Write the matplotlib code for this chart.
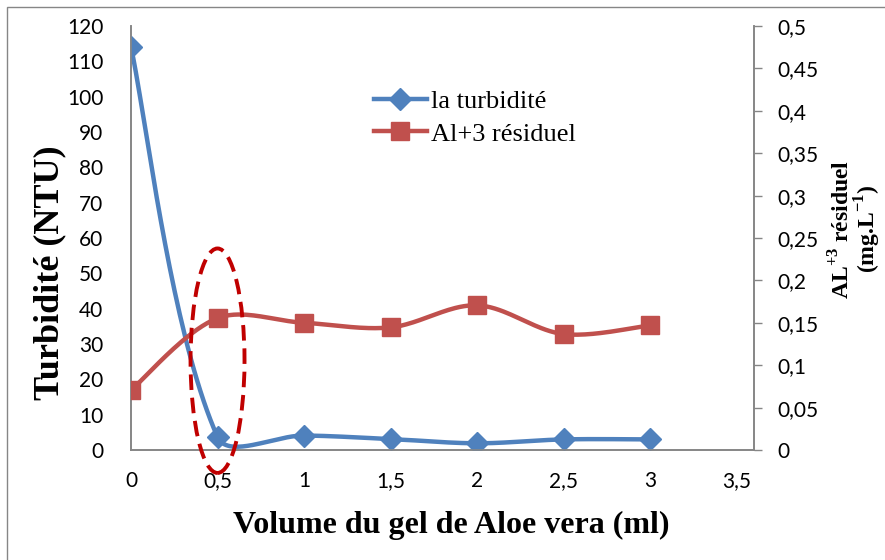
import numpy as np
import matplotlib
matplotlib.use("Agg")
import matplotlib.pyplot as plt
from matplotlib.patches import Ellipse, Rectangle
from matplotlib.lines import Line2D

# ---- data ----
volume = [0, 0.5, 1, 1.5, 2, 2.5, 3]
turbidite = [114, 3.7, 4.1, 3.1, 1.9, 3.0, 3.0]
al_residuel = [0.0706, 0.1555, 0.150, 0.1446, 0.1706, 0.1367, 0.147]
x_ticks = [0, 0.5, 1, 1.5, 2, 2.5, 3, 3.5]
x_ticklabels = ["0", "0,5", "1", "1,5", "2", "2,5", "3", "3,5"]
left_ticks = list(range(0, 121, 10))
right_ticks = [0, 0.05, 0.1, 0.15, 0.2, 0.25, 0.3, 0.35, 0.4, 0.45, 0.5]
right_ticklabels = ["0", "0,05", "0,1", "0,15", "0,2", "0,25", "0,3", "0,35", "0,4", "0,45", "0,5"]

BLUE = "#4F81BD"
RED = "#C0504D"
GRAY = "#868686"

plt.rcParams['mathtext.fontset'] = 'custom'
plt.rcParams['mathtext.rm'] = 'Liberation Serif:bold'
plt.rcParams['mathtext.bf'] = 'Liberation Serif:bold'


def smooth(axis, x, y, n=40):
    """Excel-like smoothed line: Bezier segments computed in display space."""
    P = axis.transData.transform(np.column_stack([x, y]))
    out = []
    m = len(P)
    for i in range(m - 1):
        p0 = P[i - 1] if i > 0 else P[i]
        p1 = P[i]
        p2 = P[i + 1]
        p3 = P[i + 2] if i + 2 < m else P[i + 1]
        d01 = np.hypot(*(p1 - p0))
        d12 = np.hypot(*(p2 - p1))
        d23 = np.hypot(*(p3 - p2))
        f1 = d12 / (d01 + d12) / 3 if d01 > 0 else 1 / 6
        f2 = d12 / (d12 + d23) / 3 if d23 > 0 else 1 / 6
        c1 = p1 + (p2 - p0) * f1
        c2 = p2 - (p3 - p1) * f2
        t = np.linspace(0, 1, n)[:, None]
        seg = ((1 - t) ** 3) * p1 + 3 * ((1 - t) ** 2) * t * c1 + 3 * (1 - t) * t ** 2 * c2 + t ** 3 * p2
        out.append(seg if i == 0 else seg[1:])
    s = axis.transData.inverted().transform(np.vstack(out))
    return s[:, 0], s[:, 1]


W, H = 885, 560
fig = plt.figure(figsize=(W / 100, H / 100), dpi=100)
fig.patch.set_facecolor("white")
fig.patches.append(Rectangle((7 / W, -0.1), 2, 1.1 - 7 / H, transform=fig.transFigure,
                             fill=False, edgecolor=GRAY, lw=1.0))

L, R, T, B = 131, 754, 26, 450
ax = fig.add_axes([L / W, (H - B) / H, (R - L) / W, (B - T) / H])
ax2 = ax.twinx()

ax.set_xlim(0, 3.6)
ax.set_ylim(0, 120)
ax2.set_ylim(0, 0.5)

tick_font = dict(family="Lato", size=15)
ax.set_xticks(x_ticks)
ax.set_xticklabels(x_ticklabels, **tick_font)
ax.set_yticks(left_ticks)
ax.set_yticklabels([str(v) for v in left_ticks], **tick_font)
ax2.set_yticks(right_ticks)
ax2.set_yticklabels(right_ticklabels, **tick_font)

ax.tick_params(axis="x", length=0, pad=15)
ax.tick_params(axis="y", length=0, pad=20)
ax2.tick_params(axis="y", length=6, width=1, color=GRAY, pad=11)

for a in (ax, ax2):
    a.spines["top"].set_visible(False)
    for s in ("left", "right", "bottom"):
        a.spines[s].set_color(GRAY)
        a.spines[s].set_linewidth(1.2)

# blue series on primary axis
xb, yb = smooth(ax, volume, turbidite)
ax.plot(xb, yb, color=BLUE, lw=3.2, zorder=2)
ax.plot(volume, turbidite, ls="none", marker="D", ms=11, color=BLUE, zorder=3)

# red series on secondary axis
xs, ys = smooth(ax2, volume, al_residuel)
ax2.plot(xs, ys, color=RED, lw=3.2, zorder=2)
ax2.plot(volume, al_residuel, ls="none", marker="s", ms=13, color=RED, zorder=3)

# dashed ellipse
ell = Ellipse((0.5, 0.1053), 0.312, 0.2647, fill=False, edgecolor="#C00000",
              lw=2.8, ls=(0, (4, 2)), zorder=6, clip_on=False)
ax2.add_patch(ell)

# legend
handles = [Line2D([], [], color=BLUE, lw=3.2, marker="D", ms=11),
           Line2D([], [], color=RED, lw=3.2, marker="s", ms=13)]
leg = ax2.legend(handles, ["la turbidité", "Al+3 résiduel"], loc="upper left",
                 bbox_to_anchor=((374 - L) / (R - L), 1 - (90 - T) / (B - T)),
                 frameon=False, prop=dict(family="Liberation Serif", size=19),
                 handlelength=2.0, handletextpad=0.15, labelspacing=0.33, borderaxespad=0,
                 borderpad=0)

fig.text(451 / W, 1 - 525 / H, "Volume du gel de Aloe vera (ml)",
         ha="center", va="center", family="Liberation Serif", weight="bold", size=23)
fig.text(50 / W, 1 - 273 / H, "Turbidité (NTU)", rotation=90, ha="center", va="center",
         family="Liberation Serif", weight="bold", size=26)
fig.text(856 / W, 1 - 229 / H, "AL$^{+3}$ résiduel\n(mg.L$^{-1}$)", rotation=90,
         ha="center", va="center", multialignment="center", linespacing=0.95,
         family="Liberation Serif", weight="bold", size=17)

fig.savefig("out.png", dpi=100)
